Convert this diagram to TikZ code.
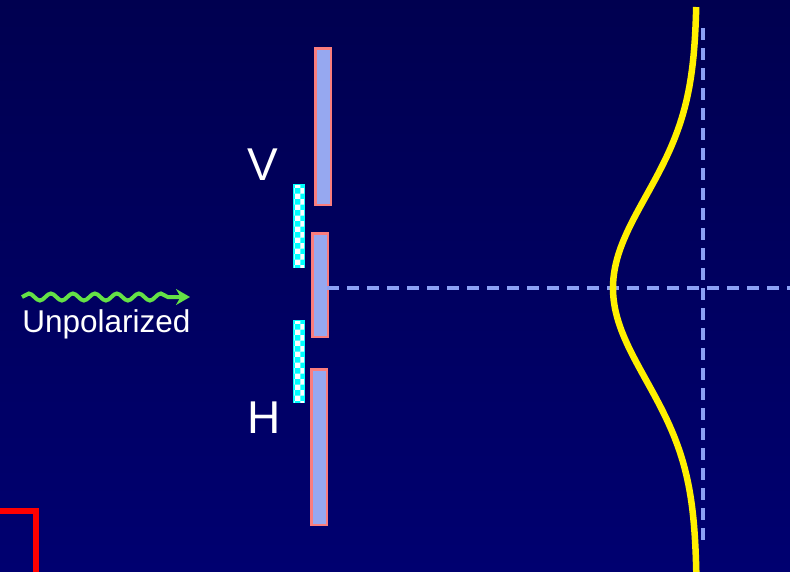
\documentclass[tikz,border=0pt]{standalone}
\usepackage{fontspec}
\setmainfont{Liberation Sans}
\usetikzlibrary{decorations.pathmorphing,patterns,arrows.meta}
\definecolor{bgtop}{RGB}{0,0,80}
\definecolor{bgbot}{RGB}{0,0,112}
\definecolor{barfill}{RGB}{150,168,240}
\definecolor{barline}{RGB}{250,125,125}
\definecolor{dashblue}{RGB}{140,160,245}
\definecolor{wavegreen}{RGB}{100,225,70}
\definecolor{curveyellow}{RGB}{255,240,0}
\definecolor{stripcyan}{RGB}{0,255,255}
\begin{document}
\begin{tikzpicture}[x=1pt,y=-1pt,
  bar/.style={draw=barline, line width=2.8pt, fill=barfill, inner sep=0pt, anchor=north west, minimum width=15.2pt},
  strip/.style={draw=stripcyan, line width=2.4pt, fill=stripcyan, inner sep=0pt, anchor=north west, minimum width=9.6pt,
    postaction={pattern=checkerboard, pattern color=white}},
  lbl/.style={text=white, inner sep=0pt},
  guide/.style={draw=dashblue, line width=3.2pt, dash pattern=on 12pt off 8pt}]
\useasboundingbox (0,0) rectangle (790,571);
\shade[top color=bgtop, bottom color=bgbot] (0,0) rectangle (790,571);
\clip (0,0) rectangle (790,571);

% slits
\node[bar, minimum height=156.2pt] (topbar) at (314.4,47.4) {};
\node[bar, minimum height=103.2pt] (midbar) at (311.4,232.4) {};
\node[bar, minimum height=155.2pt] (botbar) at (310.4,368.4) {};

% polarizer strips
\node[strip, minimum height=81.6pt] (vstrip) at (293.2,184.2) {};
\node[strip, minimum height=80.6pt] (hstrip) at (293.2,320.2) {};

% labels
\node[lbl, font=\fontsize{46}{46}\selectfont] (vlabel) at (263,165) {V};
\node[lbl, font=\fontsize{46}{46}\selectfont] (hlabel) at (264,418) {H};
\node[lbl, font=\fontsize{31.5}{31.5}\selectfont] (unpol) at (106.5,324) {Unpolarized};

% wave arrow
\coordinate (wstart) at (22,297);
\coordinate (wend) at (190,297);
\draw[wavegreen, line width=4pt, decorate,
  decoration={snake, amplitude=3.5pt, segment length=22pt, post length=12pt},
  -{Stealth[length=14pt,width=16pt]}] (wstart) -- (wend);

% guide lines
\coordinate (hstart) at (327,288);
\coordinate (hend) at (792,288);
\coordinate (vtop) at (703,28);
\coordinate (vbot) at (703,545);
\draw[guide] (hstart) -- (hend);
\draw[guide] (vtop) -- (vbot);

% intensity curve
\draw[curveyellow, line width=6.5pt]
  plot[domain=7:575, samples=150, variable=\t]
  ({697-84*exp(-0.5*((\t-288)/92)*((\t-288)/92))}, \t);

% red corner
\coordinate (rc) at (36,511);
\draw[red, line width=6pt] (-5,511) -- (rc) -- (36,580);
\end{tikzpicture}
\end{document}
